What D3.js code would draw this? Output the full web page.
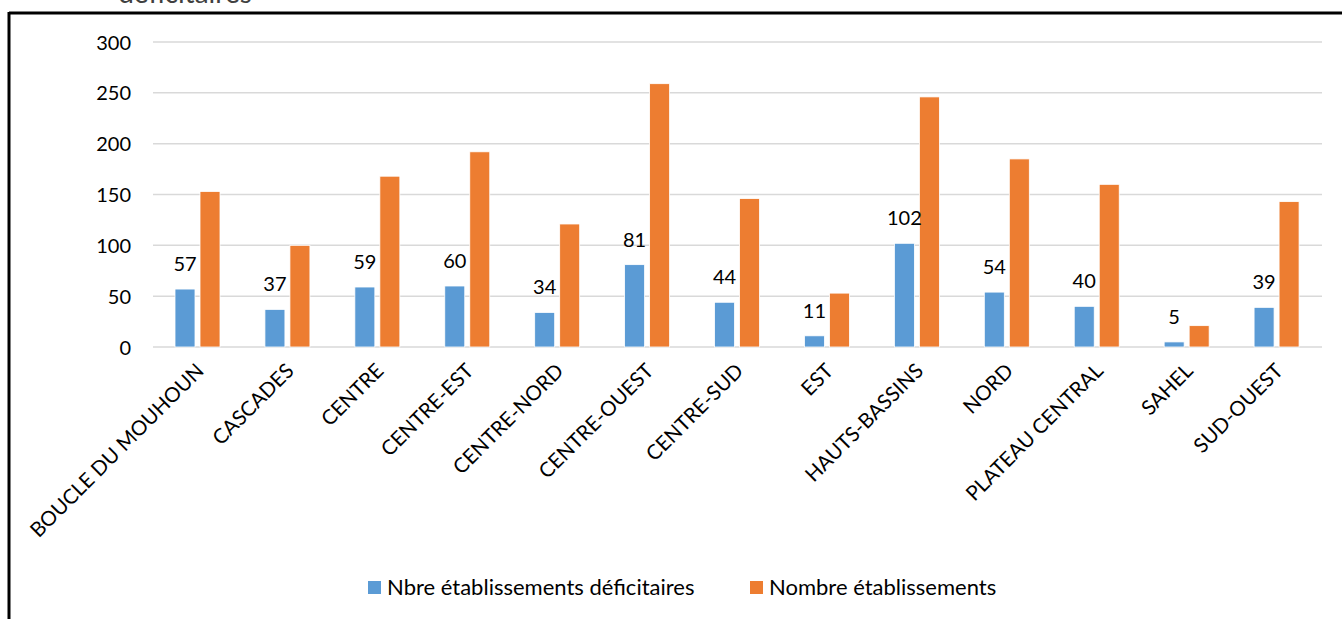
<!DOCTYPE html>
<html>
<head>
<meta charset="utf-8">
<script src="https://cdn.jsdelivr.net/npm/d3@7"></script>
<style>
  html, body { margin: 0; padding: 0; background: #fff; }
  svg { display: block; }
  text { font-family: Lato, "Open Sans", sans-serif; fill: #000; }
</style>
</head>
<body>
<svg id="chart" width="1342" height="619"></svg>
<script>
const categories = ["BOUCLE DU MOUHOUN","CASCADES","CENTRE","CENTRE-EST","CENTRE-NORD","CENTRE-OUEST","CENTRE-SUD","EST","HAUTS-BASSINS","NORD","PLATEAU CENTRAL","SAHEL","SUD-OUEST"];
const seriesNames = ["Nbre établissements déficitaires","Nombre établissements"];
const deficitaires = [57,37,59,60,34,81,44,11,102,54,40,5,39];
const total = [153,100,168,192,121,259,146,53,246,185,160,21,143];
const yTicks = [0,50,100,150,200,250,300];
const colors = ["#5B9BD5","#ED7D31"];

const svg = d3.select("#chart");

// frame
svg.append("line").attr("x1",9).attr("x2",1342).attr("y1",13).attr("y2",13).attr("stroke","#000").attr("stroke-width",3);
svg.append("line").attr("x1",9).attr("x2",9).attr("y1",12).attr("y2",619).attr("stroke","#000").attr("stroke-width",3);

// cut-off title remnant (as in the reference)
svg.append("text").attr("x",185).attr("y",3).attr("text-anchor","middle")
  .style("font-size","28px").style("fill","#404040").text("déficitaires");

const x0 = d3.scaleBand().domain(categories).range([153,1322]).padding(0);
const x1 = d3.scaleBand().domain(seriesNames).range([22,67]).paddingInner(0.2);
const y = d3.scaleLinear().domain([0,300]).range([347,42]);

// gridlines
svg.append("g").selectAll("line").data(yTicks).join("line")
  .attr("x1",153).attr("x2",1322)
  .attr("y1",d=>y(d)).attr("y2",d=>y(d))
  .attr("stroke","#D9D9D9").attr("stroke-width",1.5);

// y axis labels
const yAxis = d3.axisLeft(y).tickValues(yTicks).tickSize(0).tickPadding(0);
const ya = svg.append("g").attr("transform","translate(131,0)").call(yAxis);
ya.select(".domain").remove();
ya.selectAll("text").style("font-size","20px").style("font-family","Lato, sans-serif").attr("fill","#000").attr("dy","0.35em");

const data = categories.map((c,i)=>({cat:c, vals:[deficitaires[i], total[i]]}));

const groups = svg.append("g").selectAll("g").data(data).join("g")
  .attr("transform",d=>`translate(${x0(d.cat)},0)`);

groups.selectAll("rect").data(d=>d.vals.map((v,j)=>({s:seriesNames[j], v, j}))).join("rect")
  .attr("x",d=>x1(d.s)).attr("width",x1.bandwidth())
  .attr("y",d=>y(d.v)).attr("height",d=>y(0)-y(d.v))
  .attr("fill",d=>colors[d.j]).attr("stroke","#fff").attr("stroke-width",0.8);

// value labels for first series
groups.append("text")
  .attr("x",x1(seriesNames[0])+x1.bandwidth()/2)
  .attr("y",d=>y(d.vals[0])-18)
  .attr("text-anchor","middle")
  .style("font-size","20px")
  .text(d=>d.vals[0]);

// category labels
const xAxis = d3.axisBottom(x0).tickSize(0).tickPadding(0);
const xa = svg.append("g").attr("transform","translate(0,347)").call(xAxis);
xa.select(".domain").remove();
xa.selectAll("text")
  .style("font-size","20.5px").style("font-family","Lato, sans-serif").attr("fill","#000")
  .attr("text-anchor","end")
  .attr("transform","translate(-3,15) rotate(-45)")
  .attr("dy","0.7em").attr("y",0).attr("x",0);

// legend
const legendItems = [{name:seriesNames[0], c:colors[0], x:368},{name:seriesNames[1], c:colors[1], x:750}];
const lg = svg.append("g").selectAll("g").data(legendItems).join("g")
  .attr("transform",d=>`translate(${d.x},581)`);
lg.append("rect").attr("width",13).attr("height",13).attr("fill",d=>d.c);
lg.append("text").attr("x",19).attr("y",6.5).attr("dy","0.35em").style("font-size","22px").text(d=>d.name);
</script>
</body>
</html>
